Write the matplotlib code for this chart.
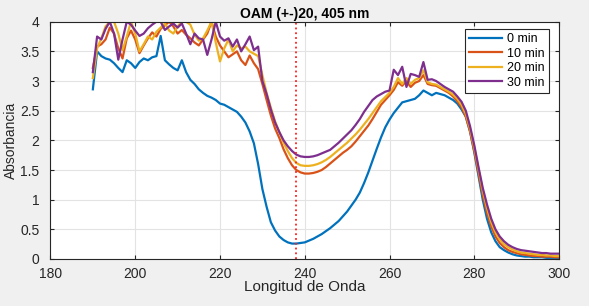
import numpy as np
import matplotlib.pyplot as plt

plt.rcParams['font.family'] = ['Liberation Sans', 'DejaVu Sans']

wavelength = list(range(190, 301))

abs_0min = [2.86, 3.50, 3.42, 3.38, 3.36, 3.30, 3.22, 3.15, 3.35, 3.30,
            3.22, 3.32, 3.38, 3.35, 3.40, 3.42, 3.76, 3.35, 3.28, 3.22,
            3.18, 3.35, 3.15, 3.02, 2.95, 2.86, 2.80, 2.75, 2.72, 2.68,
            2.62, 2.60, 2.56, 2.52, 2.48, 2.40, 2.30, 2.15, 1.95, 1.60,
            1.18, 0.88, 0.62, 0.48, 0.38, 0.32, 0.28, 0.26, 0.26, 0.27,
            0.28, 0.31, 0.34, 0.38, 0.42, 0.47, 0.52, 0.58, 0.64, 0.72,
            0.80, 0.90, 1.00, 1.12, 1.28, 1.46, 1.66, 1.86, 2.05, 2.22,
            2.35, 2.46, 2.55, 2.64, 2.66, 2.68, 2.70, 2.76, 2.84, 2.80,
            2.76, 2.80, 2.78, 2.76, 2.72, 2.68, 2.62, 2.52, 2.40, 2.15,
            1.80, 1.40, 1.00, 0.68, 0.45, 0.30, 0.20, 0.15, 0.11, 0.08,
            0.06, 0.05, 0.04, 0.04, 0.03, 0.03, 0.03, 0.02, 0.02, 0.02,
            0.02]

abs_10min = [3.22, 3.58, 3.62, 3.70, 3.90, 3.80, 3.55, 3.38, 3.72, 3.85,
             3.70, 3.47, 3.60, 3.72, 3.82, 3.75, 3.88, 3.94, 4.00, 3.92,
             3.80, 3.86, 3.78, 3.72, 3.65, 3.60, 3.70, 3.80, 4.00, 3.75,
             3.60, 3.50, 3.40, 3.45, 3.50, 3.35, 3.27, 3.43, 3.30, 3.20,
             2.95, 2.68, 2.42, 2.20, 2.04, 1.85, 1.70, 1.58, 1.50, 1.46,
             1.44, 1.44, 1.45, 1.47, 1.50, 1.55, 1.61, 1.67, 1.73, 1.79,
             1.84, 1.90, 1.98, 2.07, 2.16, 2.25, 2.36, 2.48, 2.60, 2.68,
             2.76, 2.85, 2.98, 2.92, 3.00, 2.90, 2.97, 3.00, 3.10, 2.95,
             2.93, 2.92, 2.88, 2.84, 2.80, 2.74, 2.66, 2.56, 2.40, 2.15,
             1.82, 1.45, 1.08, 0.78, 0.55, 0.38, 0.27, 0.20, 0.15, 0.12,
             0.10, 0.08, 0.07, 0.06, 0.05, 0.05, 0.04, 0.04, 0.04, 0.03,
             0.03]

abs_20min = [3.05, 3.55, 3.72, 3.92, 4.00, 4.00, 3.80, 3.52, 3.75, 4.00,
             3.80, 3.50, 3.62, 3.75, 3.70, 3.83, 3.90, 3.97, 3.85, 3.80,
             3.92, 4.00, 4.00, 3.95, 3.78, 3.68, 3.72, 3.85, 4.00, 3.65,
             3.33, 3.55, 3.70, 3.50, 3.60, 3.55, 3.58, 3.50, 3.46, 3.42,
             3.10, 2.80, 2.55, 2.32, 2.14, 1.96, 1.82, 1.70, 1.62, 1.58,
             1.57, 1.57, 1.58, 1.60, 1.63, 1.67, 1.72, 1.78, 1.84, 1.90,
             1.96, 2.03, 2.10, 2.18, 2.27, 2.36, 2.46, 2.56, 2.66, 2.73,
             2.80, 2.90, 3.05, 2.95, 3.05, 2.95, 3.02, 3.05, 3.18, 2.98,
             2.95, 2.94, 2.90, 2.86, 2.82, 2.77, 2.70, 2.60, 2.45, 2.20,
             1.88, 1.52, 1.16, 0.86, 0.62, 0.45, 0.33, 0.25, 0.20, 0.16,
             0.13, 0.11, 0.10, 0.09, 0.08, 0.07, 0.07, 0.06, 0.06, 0.05,
             0.05]

abs_30min = [3.15, 3.75, 3.70, 3.88, 4.00, 3.80, 3.36, 3.70, 4.00, 3.95,
             3.85, 3.76, 3.80, 3.89, 3.95, 4.00, 4.00, 3.86, 3.92, 3.97,
             3.90, 3.97, 3.80, 3.62, 3.80, 3.72, 3.70, 3.44, 3.70, 4.00,
             3.75, 3.68, 3.72, 3.58, 3.70, 3.50, 3.62, 3.75, 3.52, 3.58,
             3.00, 2.78, 2.52, 2.30, 2.14, 2.00, 1.90, 1.82, 1.76, 1.73,
             1.72, 1.72, 1.73, 1.75, 1.78, 1.81, 1.84, 1.90, 1.96, 2.03,
             2.10, 2.17, 2.26, 2.36, 2.48, 2.58, 2.68, 2.74, 2.78, 2.82,
             2.84, 3.19, 3.10, 3.24, 2.90, 3.12, 3.10, 3.07, 3.32, 3.02,
             3.03, 3.00, 2.95, 2.90, 2.86, 2.82, 2.74, 2.65, 2.50, 2.24,
             1.92, 1.55, 1.20, 0.92, 0.68, 0.50, 0.38, 0.30, 0.24, 0.20,
             0.17, 0.15, 0.14, 0.13, 0.12, 0.11, 0.10, 0.10, 0.09, 0.09,
             0.09]

labels = ['0 min', '10 min', '20 min', '30 min']
colors = ['#0072BD', '#D95319', '#EDB120', '#7E2F8E']
marker_nm = 238

fig = plt.figure(figsize=(5.89, 3.06), dpi=100, facecolor='#f0f0f0')
ax = fig.add_axes([0.0857, 0.1536, 0.8634, 0.7755])

for y, lab, c in zip([abs_0min, abs_10min, abs_20min, abs_30min], labels, colors):
    ax.plot(wavelength, np.clip(y, 0, 4), color=c, lw=1.6, label=lab)

ax.axvline(marker_nm, color='#ff2020', ls=':', lw=1.3)

ax.set_xlim(180, 300)
ax.set_ylim(0, 4)
ax.set_xticks(range(180, 301, 20))
ax.set_yticks(np.arange(0, 4.01, 0.5))
ax.set_yticklabels(['0', '0.5', '1', '1.5', '2', '2.5', '3', '3.5', '4'])
ax.grid(True, color='#e3e3e3', lw=0.8)
ax.set_axisbelow(True)
ax.tick_params(direction='in', top=True, right=True, labelsize=10,
               colors='#262626', length=3)
ax.tick_params(axis='y', pad=8)
ax.tick_params(axis='x', pad=6)
for s in ax.spines.values():
    s.set_color('#262626')
    s.set_linewidth(0.8)

ax.set_title('OAM (+-)20, 405 nm', fontsize=10, fontweight='bold', pad=3)
ax.set_xlabel('Longitud de Onda', fontsize=11, color='#262626', va='top')
ax.set_ylabel('Absorbancia', fontsize=10, color='#262626')
ax.xaxis.set_label_coords(0.5, -0.088)
ax.yaxis.set_label_coords(-0.064, 0.5)

leg = ax.legend(loc='upper right', bbox_to_anchor=(0.98, 0.97), fontsize=9,
                handlelength=2.6, handletextpad=0.4, fancybox=False,
                edgecolor='#262626', framealpha=1, borderaxespad=0,
                labelspacing=0.2, borderpad=0.35)
leg.get_frame().set_linewidth(0.8)

fig.savefig('out.png', dpi=100, facecolor=fig.get_facecolor())
